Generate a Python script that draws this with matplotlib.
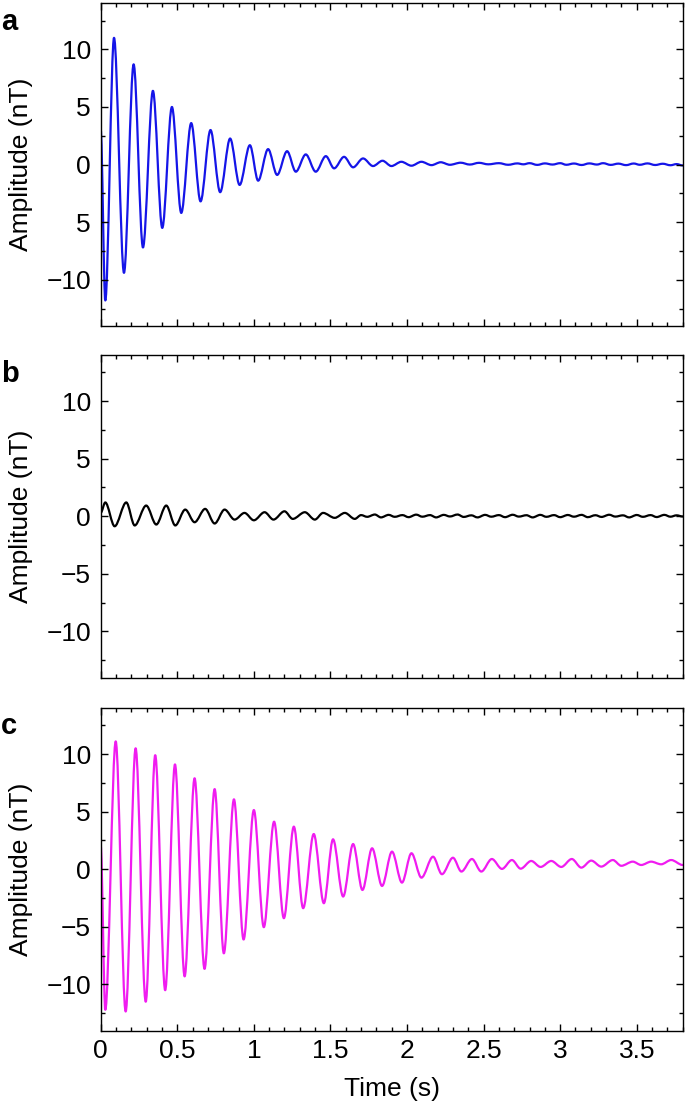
import matplotlib
matplotlib.use("Agg")
import matplotlib.pyplot as plt
from matplotlib.path import Path
from matplotlib.patches import PathPatch
from matplotlib.ticker import MultipleLocator

plt.rcParams['font.family'] = ['Liberation Sans', 'DejaVu Sans']

# ---- data: extrema (time s, amplitude nT) ----
t_a = [0.0, 0.030, 0.087, 0.152, 0.215, 0.276, 0.341, 0.402, 0.465, 0.526,
       0.591, 0.652, 0.717, 0.780, 0.845, 0.907, 0.974, 1.028, 1.093, 1.152,
       1.217, 1.274, 1.339, 1.404, 1.470, 1.524, 1.589, 1.648, 1.713, 1.778,
       1.840, 1.898, 1.963, 2.029, 2.094, 2.16, 2.22, 2.28, 2.35, 2.41,
       2.47, 2.53, 2.60, 2.66, 2.72, 2.76, 2.80, 2.85, 2.90, 2.95,
       3.00, 3.04, 3.09, 3.14, 3.19, 3.24, 3.28, 3.33, 3.38, 3.43,
       3.48, 3.52, 3.57, 3.62, 3.67, 3.72, 3.76, 3.80]
y_a = [3.0, -11.8, 11.0, -9.4, 8.7, -7.2, 6.4, -5.5, 5.0, -4.2,
       3.6, -3.2, 3.0, -2.4, 2.26, -1.77, 1.68, -1.4, 1.34, -0.9,
       1.16, -0.62, 0.88, -0.62, 0.73, -0.33, 0.67, -0.24, 0.53, -0.13,
       0.33, -0.13, 0.24, -0.10, 0.24, -0.05, 0.20, -0.02, 0.16, 0.00,
       0.15, 0.02, 0.12, -0.02, 0.10, 0.02, 0.12, -0.03, 0.10, 0.00,
       0.12, -0.02, 0.09, -0.04, 0.10, 0.00, 0.12, -0.03, 0.08, -0.05,
       0.09, -0.02, 0.10, -0.04, 0.07, -0.06, 0.04, -0.08]

t_b = [0.0, 0.030, 0.091, 0.167, 0.222, 0.297, 0.363, 0.428, 0.487, 0.552,
       0.613, 0.682, 0.744, 0.809, 0.874, 0.939, 1.000, 1.070, 1.128, 1.200,
       1.254, 1.333, 1.398, 1.452, 1.528, 1.594, 1.659, 1.70, 1.74, 1.79,
       1.83, 1.88, 1.92, 1.97, 2.01, 2.06, 2.10, 2.15, 2.19, 2.24,
       2.28, 2.33, 2.37, 2.42, 2.46, 2.51, 2.55, 2.60, 2.64, 2.69,
       2.73, 2.78, 2.82, 2.87, 2.91, 2.96, 3.00, 3.05, 3.09, 3.14,
       3.18, 3.23, 3.27, 3.32, 3.36, 3.41, 3.45, 3.50, 3.54, 3.59,
       3.63, 3.68, 3.72, 3.76, 3.80]
y_b = [0.3, 1.2, -0.87, 1.2, -0.8, 0.93, -0.72, 0.93, -0.8, 0.58,
       -0.52, 0.64, -0.63, 0.58, -0.29, 0.29, -0.35, 0.35, -0.29, 0.43,
       -0.23, 0.35, -0.29, 0.29, -0.14, 0.29, -0.23, 0.10, -0.05, 0.15,
       -0.10, 0.12, -0.05, 0.10, -0.08, 0.14, -0.04, 0.10, -0.10, 0.12,
       -0.02, 0.15, -0.06, 0.08, -0.10, 0.12, -0.04, 0.10, -0.08, 0.13,
       -0.03, 0.09, -0.10, 0.12, -0.05, 0.10, -0.08, 0.11, -0.04, 0.12,
       -0.08, 0.09, -0.06, 0.13, -0.03, 0.08, -0.10, 0.11, -0.05, 0.10,
       -0.07, 0.12, -0.04, 0.08, -0.02]

t_c = [0.0, 0.030, 0.098, 0.163, 0.228, 0.294, 0.356, 0.421, 0.485, 0.548,
       0.613, 0.678, 0.744, 0.804, 0.870, 0.933, 1.000, 1.065, 1.132, 1.196,
       1.261, 1.322, 1.391, 1.457, 1.517, 1.583, 1.648, 1.709, 1.772, 1.837,
       1.902, 1.967, 2.029, 2.094, 2.170, 2.228, 2.300, 2.355, 2.424, 2.485,
       2.554, 2.620, 2.685, 2.742, 2.811, 2.872, 2.942, 3.007, 3.076, 3.138,
       3.203, 3.268, 3.344, 3.399, 3.474, 3.529, 3.594, 3.659, 3.725, 3.80]
y_c = [2.0, -12.2, 11.1, -12.35, 10.5, -11.5, 9.9, -10.5, 9.1, -9.3,
       7.9, -8.65, 6.96, -7.3, 6.07, -6.1, 5.14, -5.03, 4.13, -4.25,
       3.7, -3.38, 3.06, -2.95, 2.6, -2.37, 2.19, -1.8, 1.82, -1.45,
       1.53, -1.16, 1.39, -0.73, 1.09, -0.43, 1.0, -0.2, 0.89, -0.2,
       0.89, 0.03, 0.8, 0.05, 0.72, 0.2, 0.72, 0.2, 0.89, 0.14,
       0.75, 0.23, 0.8, 0.3, 0.66, 0.37, 0.66, 0.43, 0.8, 0.37]

panel_letters = ['a', 'b', 'c']
ytick_vals = [-10, -5, 0, 5, 10]
ytick_labels_a = ['\u221210', '5', '0', '5', '10']
ytick_labels_bc = ['\u221210', '\u22125', '0', '5', '10']
xtick_vals = [0, 0.5, 1, 1.5, 2, 2.5, 3, 3.5]
xtick_labels = ['0', '0.5', '1', '1.5', '2', '2.5', '3', '3.5']

colors = ['#1515e8', '#000000', '#f01cf0']

W, H = 685, 1108
fig = plt.figure(figsize=(W / 100, H / 100), dpi=100)

left = 100.7 / W
width = (682.7 - 100.7) / W
tops = [3.3, 355, 708]
height_px = 322.5
FS = 19


def smooth_curve(ax, t, y, color):
    verts = [(t[0], y[0])]
    codes = [Path.MOVETO]
    for i in range(1, len(t)):
        d = (t[i] - t[i - 1]) / 3.0
        verts += [(t[i - 1] + d, y[i - 1]), (t[i] - d, y[i]), (t[i], y[i])]
        codes += [Path.CURVE4] * 3
    patch = PathPatch(Path(verts, codes), fill=False, edgecolor=color,
                      linewidth=1.6, joinstyle='round', capstyle='round',
                      transform=ax.transData, clip_on=True)
    ax.add_patch(patch)


series = [(t_a, y_a), (t_b, y_b), (t_c, y_c)]
for i in range(3):
    top = tops[i]
    bottom_frac = 1 - (top + height_px) / H
    ax = fig.add_axes([left, bottom_frac, width, height_px / H])
    t, y = series[i]
    smooth_curve(ax, t, y, colors[i])
    ax.set_xlim(0, 3.8)
    ax.set_ylim(-14, 14)
    ax.set_yticks(ytick_vals)
    ax.set_yticklabels(ytick_labels_a if i == 0 else ytick_labels_bc)
    ax.set_xticks(xtick_vals)
    if i == 2:
        ax.set_xticklabels(xtick_labels)
        ax.set_xlabel('Time (s)', fontsize=FS, labelpad=10)
    else:
        ax.set_xticklabels([])
    ax.xaxis.set_minor_locator(MultipleLocator(0.1))
    ax.yaxis.set_minor_locator(MultipleLocator(2.5))
    ax.tick_params(which='both', direction='in', top=True, right=True,
                   width=1.0, labelsize=FS)
    ax.tick_params(which='major', length=5)
    ax.tick_params(which='minor', length=3)
    ax.tick_params(axis='y', pad=7)
    ax.tick_params(axis='x', pad=6)
    for s in ax.spines.values():
        s.set_linewidth(1.0)
    ax.set_ylabel('Amplitude (nT)', fontsize=FS)
    ax.yaxis.set_label_coords((33 - 100.7) / (682.7 - 100.7), 0.5)
    fig.text(1 / W, 1 - (top + 26.5) / H, panel_letters[i], fontsize=21,
             fontweight='bold', ha='left', va='baseline')

fig.savefig('out.png', dpi=100)
